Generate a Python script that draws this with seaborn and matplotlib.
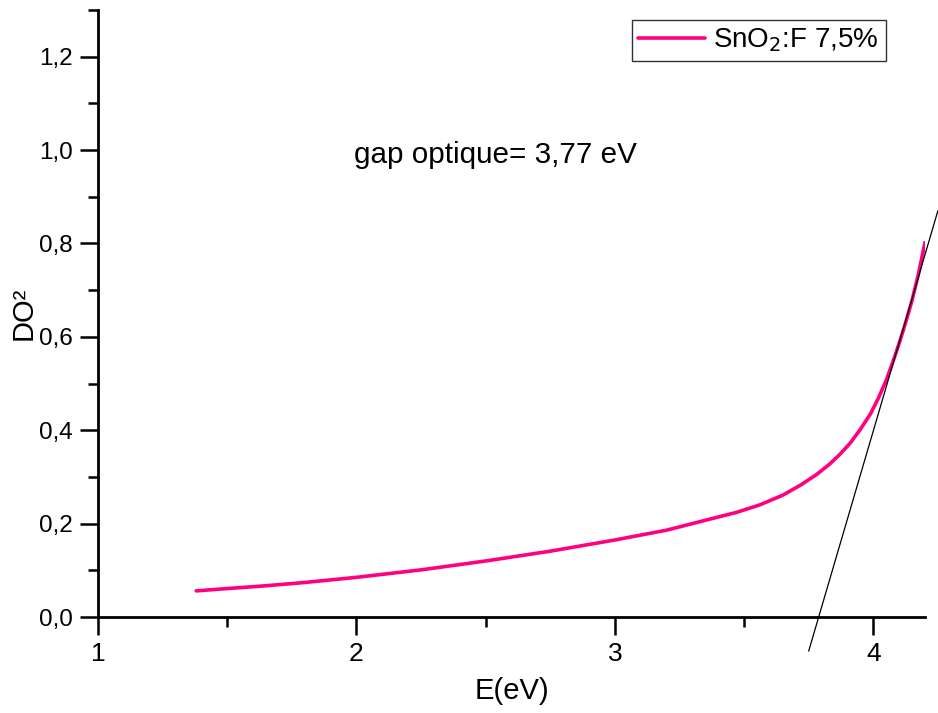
import matplotlib
matplotlib.use("Agg")
import matplotlib.pyplot as plt
from matplotlib.ticker import MultipleLocator, FuncFormatter
import seaborn as sns
import pandas as pd

# values
energy = [1.38, 1.50, 1.65, 1.80, 2.00, 2.25, 2.50, 2.75, 3.00, 3.20, 3.37, 3.47,
          3.56, 3.65, 3.72, 3.78, 3.83, 3.87, 3.91, 3.95, 3.99, 4.02, 4.05, 4.075,
          4.10, 4.125, 4.15, 4.175, 4.20]
do2 = [0.056, 0.061, 0.067, 0.074, 0.085, 0.101, 0.120, 0.141, 0.165, 0.186, 0.210, 0.224,
       0.240, 0.261, 0.283, 0.305, 0.327, 0.348, 0.372, 0.402, 0.436, 0.469, 0.507, 0.545,
       0.586, 0.630, 0.678, 0.735, 0.802]

# tangent used to read the gap
tangent_x = [3.75, 4.25]
tangent_y = [-0.073, 0.870]

series_label = "SnO$_2$:F 7,5%"
gap_text = "gap optique= 3,77 eV"

sns.set_style("ticks")
plt.rcParams["font.family"] = ["Liberation Sans", "DejaVu Sans"]
plt.rcParams["text.color"] = "black"
plt.rcParams["axes.labelcolor"] = "black"
plt.rcParams["xtick.color"] = "black"
plt.rcParams["ytick.color"] = "black"
plt.rcParams["axes.edgecolor"] = "black"

df = pd.DataFrame({"E": energy, "DO2": do2})

fig = plt.figure(figsize=(9.38, 7.13), dpi=100)
ax = fig.add_axes([0.1045, 0.1346, 0.8816, 0.8514])

sns.lineplot(data=df, x="E", y="DO2", ax=ax, color="#ff0080", linewidth=2.6,
             label=series_label, sort=False)
ax.plot(tangent_x, tangent_y, color="black", linewidth=0.9, clip_on=False)

ax.set_xlim(1, 4.2)
ax.set_ylim(0, 1.3)

ax.xaxis.set_major_locator(MultipleLocator(1))
ax.xaxis.set_minor_locator(MultipleLocator(0.5))
ax.yaxis.set_major_locator(MultipleLocator(0.2))
ax.yaxis.set_minor_locator(MultipleLocator(0.1))
ax.xaxis.set_major_formatter(FuncFormatter(lambda v, p: f"{v:.0f}"))
ax.yaxis.set_major_formatter(FuncFormatter(lambda v, p: f"{v:.1f}".replace(".", ",")))

ax.tick_params(which="major", direction="out", length=13, width=1.8, labelsize=17.5, pad=5)
ax.tick_params(axis="x", which="major", labelsize=19)
ax.tick_params(which="minor", direction="out", length=7, width=1.8)

for s in ["top", "right"]:
    ax.spines[s].set_visible(False)
for s in ["left", "bottom"]:
    ax.spines[s].set_linewidth(2)

ax.set_xlabel("E(eV)", fontsize=21, labelpad=8)
ax.set_ylabel("DO²", fontsize=21, labelpad=1)

ax.text(1.99, 0.99, gap_text, fontsize=21.3, va="center", ha="left")

leg = ax.legend(loc="upper right", bbox_to_anchor=(0.953, 0.984), fontsize=20,
                frameon=True, fancybox=False, handlelength=2.4,
                borderpad=0.25, handletextpad=0.3, borderaxespad=0)
leg.get_frame().set_edgecolor("black")
leg.get_frame().set_linewidth(1.0)

fig.savefig("out.png", dpi=100)
